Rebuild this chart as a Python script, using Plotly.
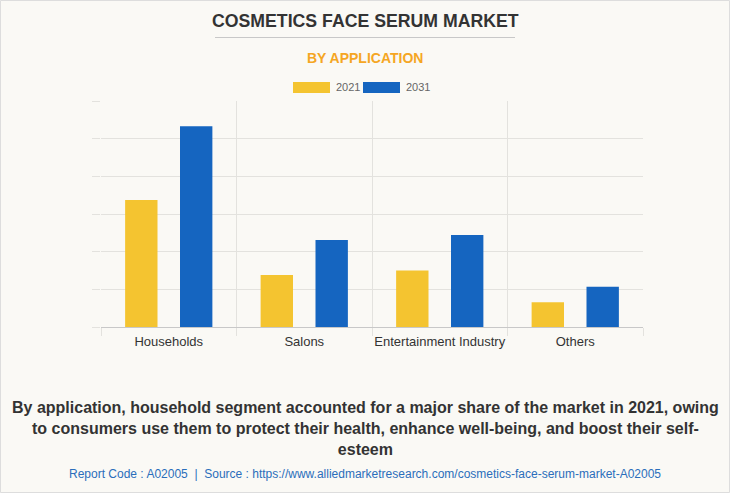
import plotly.graph_objects as go

categories = ["Households", "Salons", "Entertainment Industry", "Others"]
values_2021 = [3.37, 1.38, 1.50, 0.66]
values_2031 = [5.33, 2.31, 2.44, 1.07]
series_names = ["2021", "2031"]

W, H = 730, 493
L, R, T, B = 101, 643, 101, 327  # plot area in pixels

def px(x):
    return (x - L) / (R - L)

def py(y):
    return (B - y) / (B - T)

FONT = "Arial, Liberation Sans, sans-serif"
YELLOW = "#F4C430"
BLUE = "#1565C0"

fig = go.Figure()
fig.add_trace(go.Bar(x=categories, y=values_2021, name=series_names[0],
                     marker=dict(color=YELLOW, line=dict(width=0))))
fig.add_trace(go.Bar(x=categories, y=values_2031, name=series_names[1],
                     marker=dict(color=BLUE, line=dict(width=0))))

fig.update_layout(
    width=W, height=H,
    margin=dict(l=L, r=W - R, t=T, b=H - B, pad=0),
    paper_bgcolor="#FAF9F5", plot_bgcolor="#FAF9F5",
    barmode="group", bargap=0.19, bargroupgap=0.41,
    showlegend=False,
    font=dict(family=FONT, color="#333333"),
)
fig.update_xaxes(
    showgrid=True, gridcolor="#E3E2DE", gridwidth=1,
    tickson="boundaries", ticks="outside", ticklen=8, tickcolor="#E3E2DE",
    showline=True, linecolor="#C8C8C8", linewidth=1,
    tickfont=dict(size=13, color="#333333", family=FONT),
    tickangle=0, automargin=False, ticklabelstandoff=2,
    zeroline=False,
)
fig.update_yaxes(
    range=[0, 6], dtick=1, showgrid=True, gridcolor="#E3E2DE", gridwidth=1,
    showticklabels=False, ticks="outside", ticklen=8, tickcolor="#E3E2DE",
    zeroline=False, showline=False, automargin=False,
)

shapes = []
# border
shapes.append(dict(type="rect", xref="paper", yref="paper",
                   x0=px(0.5), x1=px(W - 0.5), y0=py(0.5), y1=py(H - 0.5),
                   line=dict(color="#DDDDDD", width=1), fillcolor="rgba(0,0,0,0)", layer="below"))
# title underline
shapes.append(dict(type="line", xref="paper", yref="paper",
                   x0=px(215), x1=px(515), y0=py(37.5), y1=py(37.5),
                   line=dict(color="#C8C8C8", width=1)))
# legend swatches
shapes.append(dict(type="rect", xref="paper", yref="paper",
                   x0=px(293), x1=px(330), y0=py(93), y1=py(82),
                   fillcolor=YELLOW, line=dict(width=0)))
shapes.append(dict(type="rect", xref="paper", yref="paper",
                   x0=px(363), x1=px(400), y0=py(93), y1=py(82),
                   fillcolor=BLUE, line=dict(width=0)))
fig.update_layout(shapes=shapes)

ann = []
ann.append(dict(text="<b>COSMETICS FACE SERUM MARKET</b>", x=px(365), y=py(21),
                font=dict(size=17.7, color="#333333", family=FONT)))
ann.append(dict(text="<b>BY APPLICATION</b>", x=px(365), y=py(58),
                font=dict(size=14, color="#F5A623", family=FONT)))
ann.append(dict(text=series_names[0], x=px(334), y=py(87.5), xanchor="left",
                font=dict(size=11, color="#666666", family=FONT)))
ann.append(dict(text=series_names[1], x=px(404), y=py(87.5), xanchor="left",
                font=dict(size=11, color="#666666", family=FONT)))
ann.append(dict(text="<b>By application, household segment accounted for a major share of the market in 2021, owing<br>"
                     "to consumers use them to protect their health, enhance well-being, and boost their self-<br>esteem</b>",
                x=px(365), y=py(428), font=dict(size=16, color="#333333", family=FONT)))
ann.append(dict(text="Report Code : A02005  |  Source : https://www.alliedmarketresearch.com/cosmetics-face-serum-market-A02005",
                x=px(365), y=py(474), font=dict(size=12, color="#2A6EBB", family=FONT)))
for a in ann:
    a.update(xref="paper", yref="paper", showarrow=False)
    a.setdefault("xanchor", "center")
    a.setdefault("yanchor", "middle")
fig.update_layout(annotations=ann)

fig.write_html("out.html", config={"displayModeBar": False},
               post_script="document.body.style.margin='0';document.body.style.overflow='hidden';")
